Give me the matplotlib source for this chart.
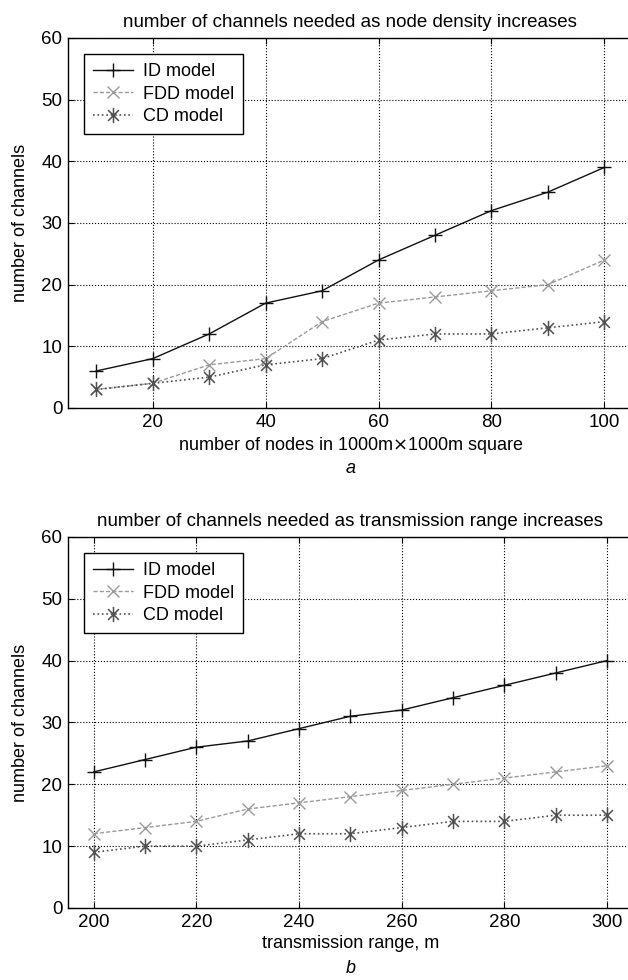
import matplotlib
matplotlib.use("Agg")
import matplotlib.pyplot as plt
from matplotlib.path import Path

plt.rcParams['font.family'] = ['Liberation Sans', 'DejaVu Sans']

# panel a: node density
nodes = [10, 20, 30, 40, 50, 60, 70, 80, 90, 100]
id_a = [6, 8, 12, 17, 19, 24, 28, 32, 35, 39]
fdd_a = [3, 4, 7, 8, 14, 17, 18, 19, 20, 24]
cd_a = [3, 4, 5, 7, 8, 11, 12, 12, 13, 14]

# panel b: transmission range
ranges = [200, 210, 220, 230, 240, 250, 260, 270, 280, 290, 300]
id_b = [22, 24, 26, 27, 29, 31, 32, 34, 36, 38, 40]
fdd_b = [12, 13, 14, 16, 17, 18, 19, 20, 21, 22, 23]
cd_b = [9, 10, 10, 11, 12, 12, 13, 14, 14, 15, 15]

FS = 13
TFS = 13.5

# matlab-like asterisk: vertical stroke plus an x
d = 0.7071
star = Path([(0, -1), (0, 1), (-d, -d), (d, d), (-d, d), (d, -d)],
            [Path.MOVETO, Path.LINETO, Path.MOVETO, Path.LINETO, Path.MOVETO, Path.LINETO])


def draw_panel(ax, x, id_vals, fdd_vals, cd_vals, xlim, xticks, title, xlabel, letter):
  ax.plot(x, id_vals, '-', color='#111111', lw=1.0, marker='+', ms=10, mew=1.0, label='ID model')
  ax.plot(x, fdd_vals, '--', color='#9a9a9a', lw=1.0, marker='x', ms=9, mew=1.0,
          dashes=(3, 1.5), label='FDD model')
  ax.plot(x, cd_vals, ':', color='#505050', lw=1.2, marker=star, ms=11, mew=1.1,
          label='CD model')

  ax.set_xlim(*xlim)
  ax.set_ylim(0, 60)
  ax.set_xticks(xticks)
  ax.set_yticks(range(0, 61, 10))
  ax.grid(True, color='black', linestyle=':', linewidth=0.8)
  ax.tick_params(direction='in', labelsize=TFS, length=4, top=True, right=False, pad=4)
  for s in ax.spines.values():
    s.set_linewidth(1.0)
  # the right edge of the frame falls just outside the picture
  ax.spines['right'].set_visible(False)

  ax.set_title(title, fontsize=TFS, pad=8)
  ax.set_ylabel('number of channels', fontsize=FS, labelpad=9)
  ax.set_xlabel(xlabel, fontsize=FS, labelpad=3)
  ax.text(0.5, -0.14, letter, transform=ax.transAxes, ha='center', va='top',
          fontsize=FS, style='italic')

  leg = ax.legend(loc='upper left', fontsize=FS, handlelength=2.2, borderaxespad=0.9,
                  fancybox=False, framealpha=1, edgecolor='black', labelspacing=0.3,
                  handletextpad=0.55, borderpad=0.5)
  leg.get_frame().set_linewidth(1.0)


fig = plt.figure(figsize=(6.28, 9.8), dpi=100)
ax_a = fig.add_axes([0.1083, 0.5837, 0.8990, 0.3776])
ax_b = fig.add_axes([0.1083, 0.0735, 0.8990, 0.3786])

draw_panel(ax_a, nodes, id_a, fdd_a, cd_a, (5, 105), [20, 40, 60, 80, 100],
           'number of channels needed as node density increases',
           'number of nodes in 1000m$\\times$1000m square', 'a')
draw_panel(ax_b, ranges, id_b, fdd_b, cd_b, (195, 305), [200, 220, 240, 260, 280, 300],
           'number of channels needed as transmission range increases',
           'transmission range, m', 'b')

fig.savefig('out.png', dpi=100)
